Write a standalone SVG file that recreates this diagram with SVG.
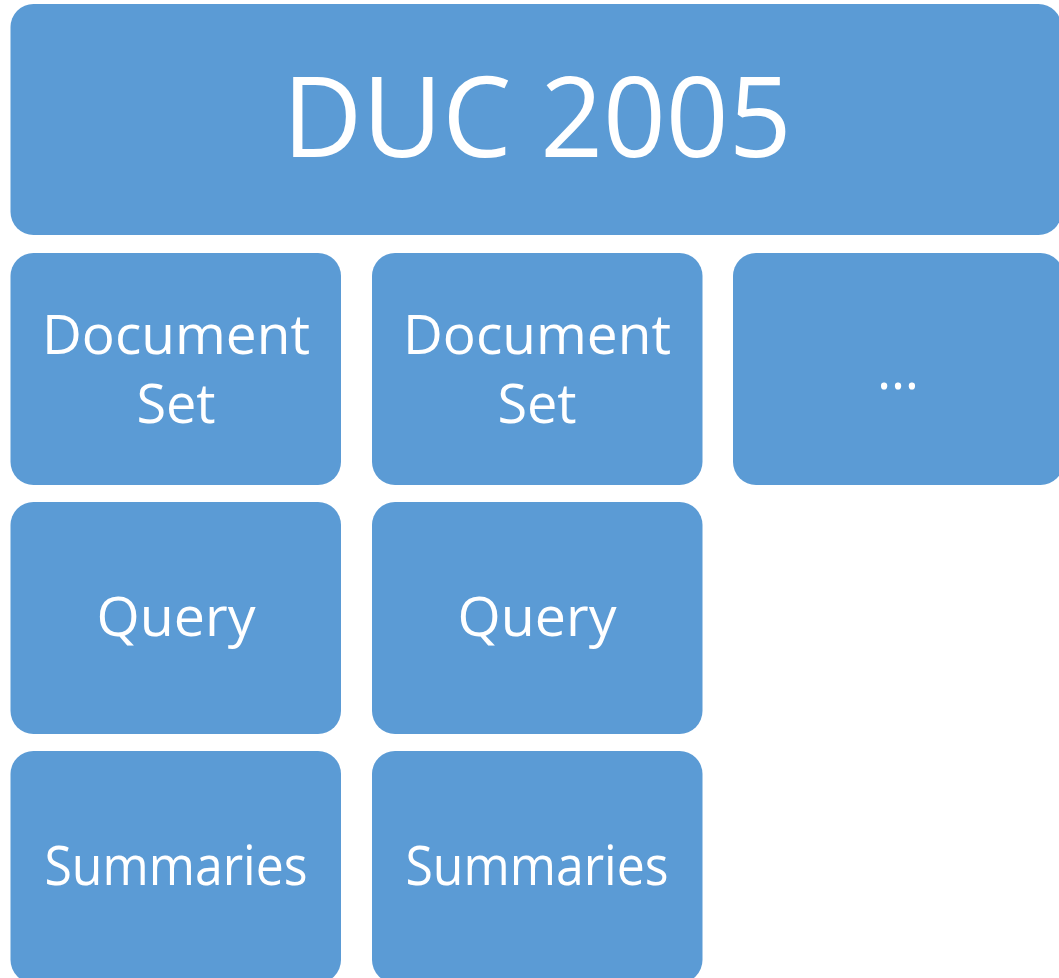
<svg xmlns="http://www.w3.org/2000/svg" width="1059" height="978" viewBox="0 0 1059 978">
<style>
.b{fill:#5B9BD5}
.t{fill:#fff;font-family:"Open Sans","DejaVu Sans",sans-serif;text-anchor:middle}
.s{font-size:54px}
</style>
<rect width="1059" height="978" fill="#fff"/>
<g id="duc"><rect class="b" x="10.5" y="4" width="1051" height="231" rx="23"/><text class="t" x="537" y="157" font-size="112" textLength="509" lengthAdjust="spacingAndGlyphs">DUC 2005</text></g>
<g id="doc1"><rect class="b" x="10.5" y="253" width="330.5" height="232" rx="23"/><text class="t s" x="176" y="354" textLength="268" lengthAdjust="spacingAndGlyphs">Document</text><text class="t s" x="176" y="423">Set</text></g>
<g id="doc2"><rect class="b" x="372" y="253" width="330.5" height="232" rx="23"/><text class="t s" x="537" y="354" textLength="268" lengthAdjust="spacingAndGlyphs">Document</text><text class="t s" x="537" y="423">Set</text></g>
<g id="more"><rect class="b" x="733" y="253" width="330.5" height="232" rx="23"/><text class="t s" x="898" y="389">…</text></g>
<g id="q1"><rect class="b" x="10.5" y="502" width="330.5" height="232" rx="23"/><text class="t s" x="176" y="636" textLength="159" lengthAdjust="spacingAndGlyphs">Query</text></g>
<g id="q2"><rect class="b" x="372" y="502" width="330.5" height="232" rx="23"/><text class="t s" x="537" y="636" textLength="159" lengthAdjust="spacingAndGlyphs">Query</text></g>
<g id="s1"><rect class="b" x="10.5" y="751" width="330.5" height="232" rx="23"/><text class="t s" x="176" y="885" textLength="263" lengthAdjust="spacingAndGlyphs">Summaries</text></g>
<g id="s2"><rect class="b" x="372" y="751" width="330.5" height="232" rx="23"/><text class="t s" x="537" y="885" textLength="263" lengthAdjust="spacingAndGlyphs">Summaries</text></g>
<g id="connectors"/>
</svg>
